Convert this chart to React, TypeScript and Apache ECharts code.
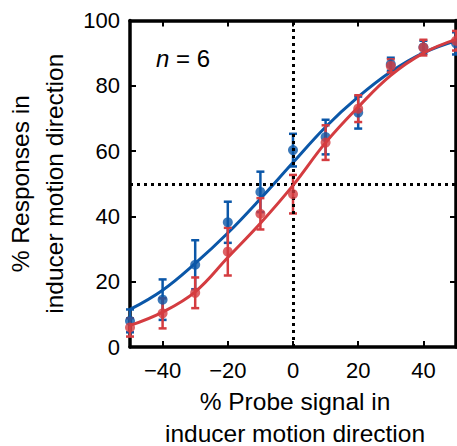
import React, { useEffect, useRef } from "react";
import * as echarts from "echarts";

const xValues = [-50, -40, -30, -20, -10, 0, 10, 20, 30, 40, 50];
const blueMean = [8.0, 14.5, 25.2, 38.2, 47.5, 60.3, 64.3, 71.8, 86.6, 91.8, 93.0];
const blueErr = [3.5, 6.2, 7.5, 6.3, 6.2, 5.0, 5.3, 4.9, 2.0, 2.0, 3.4];
const redMean = [6.0, 10.3, 16.6, 29.2, 40.8, 46.8, 62.6, 73.0, 86.1, 91.7, 93.8];
const redErr = [2.8, 4.6, 4.7, 7.3, 4.8, 5.9, 5.3, 4.1, 2.0, 2.4, 3.0];
const blueFit = [11.5, 17.4, 25.6, 34.9, 45.4, 56.5, 67.4, 76.6, 84.3, 90.1, 93.8];
const redFit = [6.6, 10.7, 16.9, 27.4, 37.9, 49.5, 62.6, 73.5, 83.2, 90.0, 94.2];
const xTicks = [-40, -20, 0, 20, 40];
const xTitleLines = ["% Probe signal in", "inducer motion direction"];

const BLUE = "#0b57a8";
const RED = "#d43c40";
const FONT = "'Liberation Sans', Arial, Helvetica, sans-serif";

function errData(mean: number[], err: number[]) {
  return xValues.map((x, i) => [x, mean[i] - err[i], mean[i] + err[i]]);
}

function errSeries(mean: number[], err: number[], color: string) {
  return {
    type: "custom",
    data: errData(mean, err),
    encode: { x: 0, y: [1, 2] },
    clip: false,
    z: 3,
    renderItem: (params: any, api: any) => {
      const x = api.value(0);
      const lo = api.coord([x, api.value(1)]);
      const hi = api.coord([x, api.value(2)]);
      const w = 4;
      const style = { stroke: color, lineWidth: 2.5, fill: "none" };
      return {
        type: "group",
        children: [
          { type: "line", shape: { x1: lo[0], y1: lo[1], x2: hi[0], y2: hi[1] }, style },
          { type: "line", shape: { x1: lo[0] - w, y1: lo[1], x2: lo[0] + w, y2: lo[1] }, style },
          { type: "line", shape: { x1: hi[0] - w, y1: hi[1], x2: hi[0] + w, y2: hi[1] }, style },
        ],
      };
    },
  };
}

export default function App() {
  const ref = useRef<HTMLDivElement>(null);
  useEffect(() => {
    if (!ref.current) return;
    const chart = echarts.init(ref.current, null, { renderer: "svg" });
    const axisLine = { show: true, onZero: false, lineStyle: { color: "#000", width: 3.5 } };
    chart.setOption({
      animation: false,
      backgroundColor: "#fff",
      textStyle: { fontFamily: FONT },
      grid: { left: 130, right: 1, top: 20.5, bottom: 99, outerBoundsMode: "none", containLabel: false },
      xAxis: [
        {
          type: "value",
          min: -50,
          max: 50,
          position: "bottom",
          axisLine,
          axisTick: { show: true, inside: true, length: 6, customValues: xTicks, lineStyle: { color: "#000", width: 2 } },
          axisLabel: {
            show: true,
            customValues: xTicks,
            margin: 12,
            fontSize: 22,
            color: "#000",
            fontFamily: FONT,
            formatter: (v: number) => (v < 0 ? "\u2212" + Math.abs(v) : String(v)),
          },
          splitLine: { show: false },
        },
        {
          type: "value",
          min: -50,
          max: 50,
          position: "top",
          axisLine,
          axisTick: { show: true, inside: true, length: 6, customValues: xTicks, lineStyle: { color: "#000", width: 2 } },
          axisLabel: { show: false },
          splitLine: { show: false },
        },
      ],
      yAxis: [
        {
          type: "value",
          min: 0,
          max: 100,
          interval: 20,
          position: "left",
          axisLine,
          axisTick: { show: true, inside: true, length: 6, lineStyle: { color: "#000", width: 2 } },
          axisLabel: { margin: 10, fontSize: 22, color: "#000", fontFamily: FONT },
          splitLine: { show: false },
          name: "% Responses in\ninducer motion direction",
          nameLocation: "middle",
          nameRotate: 90,
          nameGap: 59,
          nameTextStyle: { fontSize: 24.5, color: "#000", lineHeight: 34, fontFamily: FONT },
        },
        {
          type: "value",
          min: 0,
          max: 100,
          interval: 20,
          position: "right",
          axisLine,
          axisTick: { show: true, inside: true, length: 6, lineStyle: { color: "#000", width: 2 } },
          axisLabel: { show: false },
          splitLine: { show: false },
        },
      ],
      series: [
        {
          type: "line",
          data: xValues.map((x, i) => [x, blueFit[i]]),
          smooth: 0.4,
          showSymbol: false,
          lineStyle: { color: BLUE, width: 3 },
          z: 2,
          markLine: {
            silent: true,
            symbol: "none",
            label: { show: false },
            lineStyle: { color: "#000", width: 3, type: [3, 4] },
            data: [{ xAxis: 0 }, { yAxis: 50 }],
          },
        },
        errSeries(blueMean, blueErr, BLUE),
        {
          type: "scatter",
          data: xValues.map((x, i) => [x, blueMean[i]]),
          symbol: "circle",
          symbolSize: 10,
          itemStyle: { color: BLUE },
          z: 4,
        },
        {
          type: "line",
          data: xValues.map((x, i) => [x, redFit[i]]),
          smooth: 0.4,
          showSymbol: false,
          lineStyle: { color: RED, width: 3 },
          z: 5,
        },
        errSeries(redMean, redErr, RED),
        {
          type: "scatter",
          data: xValues.map((x, i) => [x, redMean[i]]),
          symbol: "circle",
          symbolSize: 10,
          itemStyle: { color: RED },
          z: 6,
        },
      ],
      graphic: [
        {
          type: "text",
          left: 156,
          top: 46,
          style: {
            text: "{i|n} = 6",
            font: `24px ${FONT}`,
            fill: "#000",
            rich: { i: { fontStyle: "italic", fontSize: 24, fontFamily: FONT, fill: "#000" } },
          },
        },
        {
          type: "text",
          x: 295,
          y: 401,
          style: {
            text: xTitleLines[0],
            align: "center",
            verticalAlign: "middle",
            fontSize: 24.5,
            lineHeight: 20,
            fontFamily: FONT,
            fill: "#000",
          },
        },
        {
          type: "text",
          x: 295,
          y: 433,
          style: {
            text: xTitleLines[1],
            align: "center",
            verticalAlign: "middle",
            fontSize: 24.5,
            lineHeight: 20,
            fontFamily: FONT,
            fill: "#000",
          },
        },
      ],
    });
    return () => chart.dispose();
  }, []);
  return <div ref={ref} style={{ width: 457, height: 446, position: "absolute", left: 0, top: 0 }} />;
}
